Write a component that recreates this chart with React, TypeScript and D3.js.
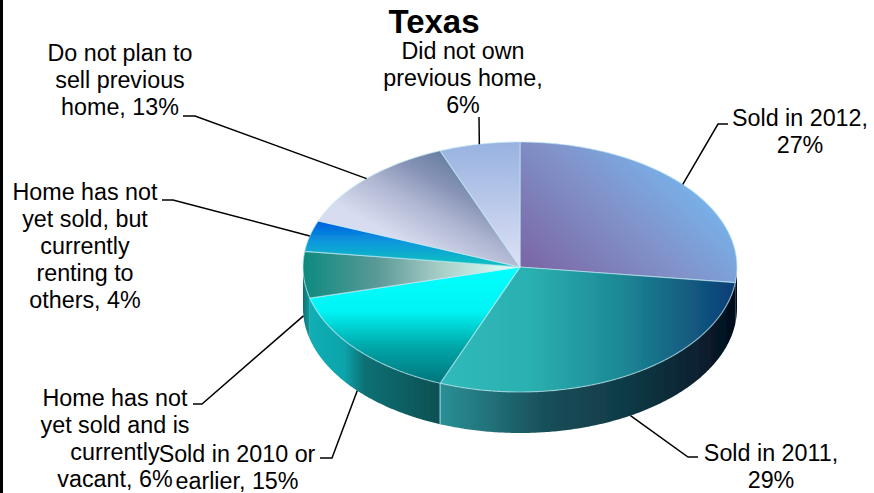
import React from "react";
import * as d3 from "d3";

const W = 874, H = 493;
const title = "Texas";
const categories = ["Sold in 2012", "Sold in 2011", "Sold in 2010 or earlier", "Home has not yet sold and is currently vacant", "Home has not yet sold, but currently renting to others", "Do not plan to sell previous home", "Did not own previous home"];
const values = [27, 29, 15, 6, 4, 13, 6];

const labelLines = [
  ["Sold in 2012,", "27%"],
  ["Sold in 2011,", "29%"],
  ["Sold in 2010 or", "earlier, 15%"],
  ["Home has not", "yet sold and is", "currently", "vacant, 6%"],
  ["Home has not", "yet sold, but", "currently", "renting to", "others, 4%"],
  ["Do not plan to", "sell previous", "home, 13%"],
  ["Did not own", "previous home,", "6%"],
];
const labelX = [800, 771, 237, 115, 85, 120, 463];
const labelY = [126, 461, 462, 406, 200, 61, 59];
// leader: elbow start / elbow end
const elbowFrom = [[728, 124], [698, 457], [320, 458], [193, 404], [162, 200], [183, 116], [479, 117]];
const elbowTo = [[718, 124], [688, 457], [332, 458], [202, 404], [173, 200], [195, 116], [479, 117]];

type Stop = [number, string];
const faceStops: Stop[][] = [
  [[0, "#78b0e8"], [0.4, "#8193ca"], [1, "#7a66a6"]],
  [[0, "#30baba"], [0.3, "#2bb0b0"], [0.6, "#1c8a96"], [0.82, "#145f82"], [1, "#0b3c76"]],
  [[0, "#00ffff"], [0.38, "#00f4f4"], [0.68, "#00a8aa"], [1, "#00757c"]],
  [[0, "#0c8a7e"], [0.35, "#5c9a98"], [0.6, "#a0c8c2"], [0.9, "#d6f6f0"], [1, "#e0fbf6"]],
  [[0, "#0060e0"], [0.5, "#0a98dc"], [1, "#10bcc4"]],
  [[0, "#5f7a9c"], [0.35, "#8a95b8"], [0.6, "#aeb5d0"], [1, "#d8dcf0"]],
  [[0, "#98b2e0"], [1, "#dee1f5"]],
];
const faceVectors = [
  [680, 175, 560, 300],
  [440, 0, 737, 0],
  [0, 267, 0, 383],
  [303, 0, 520, 0],
  [0, 222, 0, 262],
  [450, 150, 400, 240],
  [0, 143, 0, 267],
];
const wallStops: Stop[][] = [
  [[0, "#000c1c"], [1, "#000c1c"]],
  [[0, "#2a9096"], [0.35, "#18505a"], [0.65, "#0f3844"], [0.87, "#0a2030"], [1, "#020c1a"]],
  [[0, "#12b0b6"], [0.3, "#10a4ac"], [0.45, "#0c7074"], [1, "#0a4f52"]],
  [[0, "#0d6f72"], [1, "#12a0a4"]],
];
const wallVectors = [
  [700, 0, 737, 0],
  [440, 0, 737, 0],
  [303, 0, 440, 0],
  [303, 0, 310, 0],
];

const cx = 520, cy = 267, rx = 217, ry = 125, depth = 41;
const xScale = d3.scaleLinear().domain([-1, 1]).range([cx - rx, cx + rx]);
const yScale = d3.scaleLinear().domain([-1, 1]).range([cy - ry, cy + ry]);
const fontSize = 23.3, lineHeight = 27;
const font = "'Liberation Sans', Arial, sans-serif";

const rimPoints = (a0: number, a1: number): [number, number][] => {
  const n = Math.max(2, Math.ceil(Math.abs(a1 - a0) / 0.01));
  return d3.range(n + 1).map((i) => {
    const a = a0 + ((a1 - a0) * i) / n;
    return [xScale(Math.sin(a)), yScale(-Math.cos(a))] as [number, number];
  });
};
const line = d3.line();

const Grad = ({ id, v, stops }: { id: string; v: number[]; stops: Stop[] }) => (
  <linearGradient id={id} gradientUnits="userSpaceOnUse" x1={v[0]} y1={v[1]} x2={v[2]} y2={v[3]}>
    {stops.map(([o, c], i) => <stop key={i} offset={o} stopColor={c} />)}
  </linearGradient>
);

export default function App() {
  const slices = d3.pie<number>().sort(null).startAngle(0).endAngle(2 * Math.PI)(values);
  const walls = slices
    .map((s, i) => ({ i, a0: Math.max(s.startAngle, Math.PI / 2), a1: Math.min(s.endAngle, (3 * Math.PI) / 2) }))
    .filter((w) => w.a1 > w.a0);

  return (
    <svg width={W} height={H} viewBox={`0 0 ${W} ${H}`} style={{ position: "absolute", left: 0, top: 0, background: "#fff" }}>
      <defs>
        {faceStops.map((s, i) => <Grad key={i} id={`face${i}`} v={faceVectors[i]} stops={s} />)}
        {wallStops.map((s, i) => <Grad key={i} id={`wall${i}`} v={wallVectors[i]} stops={s} />)}
        <filter id="soft" x="-5%" y="-5%" width="110%" height="110%">
          <feGaussianBlur stdDeviation="0.6" />
        </filter>
      </defs>
      <rect x={0} y={0} width={3} height={H} fill="#000" />
      <g filter="url(#soft)">
        {walls.map((w) => {
          const top = rimPoints(w.a0, w.a1);
          const bottom = top.map(([x, y]) => [x, y + depth] as [number, number]).reverse();
          return <path key={w.i} d={line([...top, ...bottom]) + "Z"} fill={`url(#wall${w.i})`} />;
        })}
        {walls.slice(1).map((w) => {
          const [[x, y]] = rimPoints(w.a0, w.a0);
          return <line key={w.i} x1={x} y1={y} x2={x} y2={y + depth} stroke="#8fd4dc" strokeWidth={1.3} opacity={w.a0 > 3 && w.a0 < 4 ? 0.9 : 0} />;
        })}
        {slices.map((s, i) => (
          <path
            key={i}
            d={line([[cx, cy], ...rimPoints(s.startAngle, s.endAngle)]) + "Z"}
            fill={`url(#face${i})`}
            stroke="#bfe9f2"
            strokeOpacity={0.6}
            strokeWidth={1.2}
            strokeLinejoin="round"
          />
        ))}
      </g>
      {slices.map((s, i) => {
        const mid = (s.startAngle + s.endAngle) / 2;
        const [[px, py0]] = rimPoints(mid, mid);
        const py = py0 + (mid > Math.PI / 2 && mid < (3 * Math.PI) / 2 ? depth : 0);
        return (
          <polyline
            key={i}
            points={[elbowFrom[i], elbowTo[i], [px, py]].map((p) => p.join(",")).join(" ")}
            fill="none"
            stroke="#000"
            strokeWidth={1.5}
          />
        );
      })}
      <text x={434} y={33} textAnchor="middle" fontFamily={font} fontWeight="bold" fontSize={33} fill="#000">{title}</text>
      {labelLines.map((lines, i) => (
        <text key={i} textAnchor="middle" fontFamily={font} fontSize={fontSize} fill="#000" aria-label={categories[i]}>
          {lines.map((t, j) => (
            <tspan key={j} x={labelX[i]} y={labelY[i] + j * lineHeight}>{t}</tspan>
          ))}
        </text>
      ))}
    </svg>
  );
}
